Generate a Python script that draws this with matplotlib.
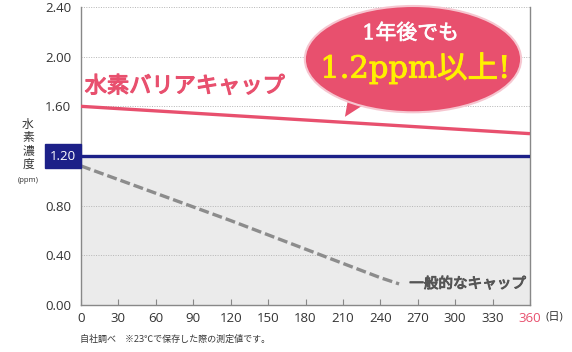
import matplotlib.pyplot as plt
import matplotlib.patheffects as pe
from matplotlib.patches import Ellipse, Polygon
from matplotlib.transforms import blended_transform_factory

plt.rcParams['font.family'] = ['Open Sans', 'Noto Sans CJK JP', 'DejaVu Sans']

days = [0, 30, 60, 90, 120, 150, 180, 210, 240, 270, 300, 330, 360]
y_ticks = [0.0, 0.4, 0.8, 1.2, 1.6, 2.0, 2.4]

barrier_days = [0, 360]
barrier_vals = [1.60, 1.38]
normal_days = [0, 120, 240, 255]
normal_vals = [1.12, 0.68, 0.22, 0.17]
target = 1.20

pink = '#e8506e'
navy = '#1c2088'
txt = '#333333'

fig = plt.figure(figsize=(5.72, 3.52), dpi=100)
ax = fig.add_axes([0.1416, 0.1335, 0.785, 0.8466])

ax.fill_between([0, 360], 0, target, color='#ebebeb', zorder=0)
for v in y_ticks[1:]:
    ax.axhline(v, color='#b5b5b5', lw=0.7, ls=(0, (1, 1.5)), zorder=1)

ax.plot(barrier_days, barrier_vals, color=pink, lw=2.4, solid_capstyle='butt', zorder=3)
ax.axhline(target, color=navy, lw=2.4, zorder=3)
ax.plot(normal_days, normal_vals, color='#8c8c8c', lw=2.4, ls=(0, (3, 1.2)), zorder=3)

ax.set_xlim(0, 360)
ax.set_ylim(0, 2.4)
ax.set_xticks(days)
ax.set_xticklabels([str(d) for d in days], fontsize=9.5, color=txt)
ax.get_xticklabels()[-1].set_color(pink)
ax.set_yticks(y_ticks)
labels = ['%.2f' % v for v in y_ticks]
labels[3] = ''
ax.set_yticklabels(labels, fontsize=9.5, color=txt)
ax.tick_params(axis='x', direction='in', length=4, color='#888888', pad=5)
ax.tick_params(axis='y', length=0, pad=7)
for s in ['left', 'bottom', 'right']:
    ax.spines[s].set_color('#888888')
    ax.spines[s].set_linewidth(1.0)
ax.spines['top'].set_visible(False)

# 1.20 label on navy box
tr = blended_transform_factory(ax.transAxes, ax.transData)
ax.text(-0.011, target, '1.20', transform=tr, ha='right', va='center',
        fontsize=9.5, color='white',
        bbox=dict(boxstyle='square,pad=0.38', fc=navy, ec=navy), zorder=5)

fig.text(0.970, 0.097, '(日)', ha='center', va='center', fontsize=8, color=txt)

# line labels
bold_pink = [pe.withStroke(linewidth=0.9, foreground=pink)]
ax.text(3, 1.755, '水素バリアキャップ', fontsize=16, color=pink,
        ha='left', va='center', path_effects=bold_pink)
bold_gray = [pe.withStroke(linewidth=0.7, foreground='#555555')]
ax.text(357, 0.165, '一般的なキャップ', fontsize=10.5, color='#555555',
        ha='right', va='center', path_effects=bold_gray)

# y axis title
for i, ch in enumerate('水素濃度'):
    fig.text(0.049, 0.645 - i * 0.037, ch, fontsize=8.5, color=txt,
             ha='center', va='center')
fig.text(0.049, 0.487, '(ppm)', fontsize=5.5, color=txt, ha='center', va='center')

# footnote
fig.text(0.14, 0.035, '自社調べ　※23℃で保存した際の測定値です。', fontsize=6.5,
         color=txt, ha='left', va='center')

# speech bubble
tail = Polygon([[0.612, 0.75], [0.603, 0.668], [0.672, 0.74]], closed=True,
               transform=fig.transFigure, fc=pink, ec='none', zorder=10)
fig.add_artist(tail)
bubble = Ellipse((0.722, 0.832), 0.378, 0.302, transform=fig.transFigure,
                 fc=pink, ec='#f6c6d0', lw=1.5, zorder=11)
fig.add_artist(bubble)
serif = ['DejaVu Serif', 'Noto Sans CJK JP']
fig.text(0.718, 0.905, '1年後でも', fontsize=15, color='white', ha='center',
         va='center', family=serif, zorder=12,
         path_effects=[pe.withStroke(linewidth=0.5, foreground='white')])
fig.text(0.726, 0.805, '1.2ppm以上!', fontsize=22, color='#fff100', ha='center',
         va='center', family=serif, zorder=12,
         path_effects=[pe.withStroke(linewidth=0.6, foreground='#fff100')])

fig.savefig('out.png', dpi=100)
